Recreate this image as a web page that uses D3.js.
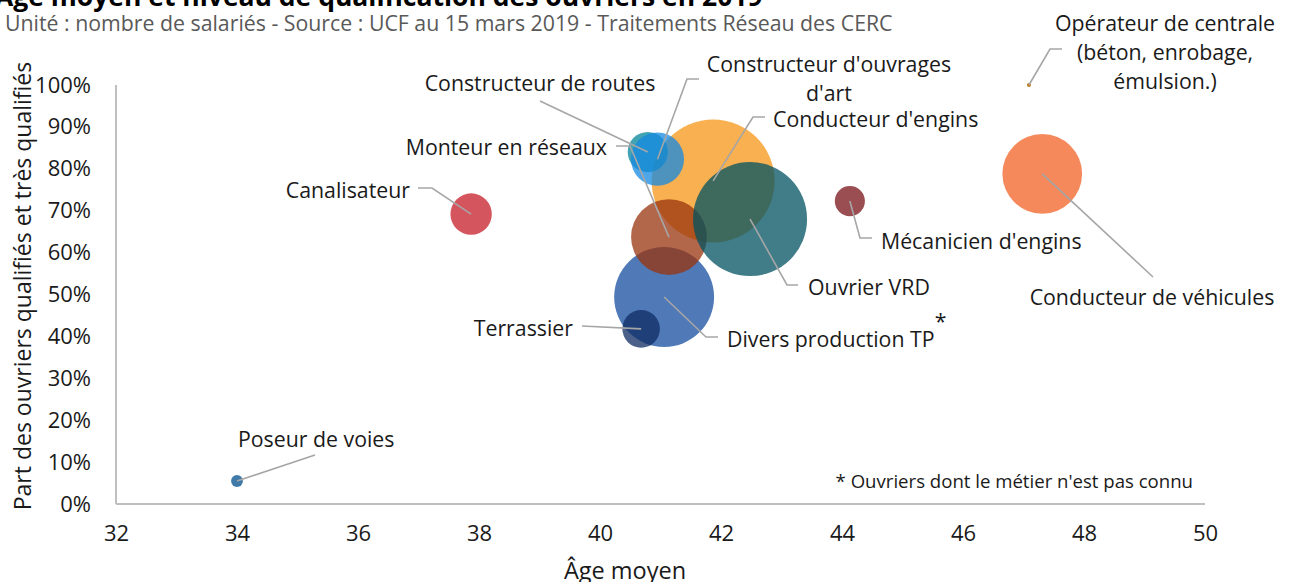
<!DOCTYPE html>
<html><head><meta charset="utf-8">
<script src="https://cdn.jsdelivr.net/npm/d3@7"></script>
<style>
html,body{margin:0;padding:0;background:#fff;}
svg{display:block;font-family:"Open Sans",sans-serif;}
</style></head>
<body>
<svg id="c" width="1295" height="582"></svg>
<script>
// ---- data ----
const metiers = ["Conducteur d'engins","Divers production TP","Constructeur de routes","Constructeur d'ouvrages d'art","Monteur en réseaux","Ouvrier VRD","Terrassier","Canalisateur","Mécanicien d'engins","Conducteur de véhicules","Poseur de voies","Opérateur de centrale (béton, enrobage, émulsion.)"];
const agesMoyens = [41.87, 41.06, 40.79, 40.95, 41.14, 42.48, 40.68, 37.87, 44.13, 47.31, 34.0, 47.09];
const partsQualifies = [0.771, 0.494, 0.840, 0.823, 0.637, 0.680, 0.418, 0.692, 0.723, 0.788, 0.055, 1.0];
const salaries = [15000, 9900, 1600, 2800, 5700, 12900, 1400, 1700, 900, 6300, 140, 9];
const xTicks = [32,34,36,38,40,42,44,46,48,50];
const yTicks = [0,0.1,0.2,0.3,0.4,0.5,0.6,0.7,0.8,0.9,1.0];

// ---- styles / layout ----
const colors = ["#f59515","#154ca0","#038499","#148ae1","#99340d","#005261","#0f2c63","#c71c28","#781318","#f16125","#004e8b","#c07a20"];
const labelLayout = [
  {lines:["Conducteur d'engins"], anchor:"start", x:773, y:118, leader:[[753,117],[765,117]]},
  {lines:["Divers production TP"], anchor:"start", x:727, y:338, leader:[[706,337],[718,337]], star:true},
  {lines:["Constructeur de routes"], anchor:"middle", x:540, y:82, leader:[[540,101]]},
  {lines:["Constructeur d'ouvrages","d'art"], anchor:"middle", x:829, y:63, leader:[[687,79],[699,79]]},
  {lines:["Monteur en réseaux"], anchor:"end", x:607, y:146, leader:[[630,146],[616,146]]},
  {lines:["Ouvrier VRD"], anchor:"start", x:808, y:286, leader:[[787,285],[798,285]]},
  {lines:["Terrassier"], anchor:"end", x:573, y:327, leader:[[582,326]]},
  {lines:["Canalisateur"], anchor:"end", x:410, y:189, leader:[[432,188],[418,188]]},
  {lines:["Mécanicien d'engins"], anchor:"start", x:881, y:240, leader:[[860,238],[872,238]]},
  {lines:["Conducteur de véhicules"], anchor:"middle", x:1152, y:296, leader:[[1153,277]]},
  {lines:["Poseur de voies"], anchor:"start", x:238, y:438, leader:[[315,455]]},
  {lines:["Opérateur de centrale","(béton, enrobage,","émulsion.)"], anchor:"middle", x:1165, y:22, leader:[[1050,49],[1062,49]]}
];
const labelSize = 21.3;

const svg = d3.select("#c");
const x = d3.scaleLinear().domain([32,50]).range([116,1205]);
const y = d3.scaleLinear().domain([0,1]).range([504,85]);
const r = d3.scaleSqrt().domain([0,15000]).range([0,61.5]);

// title & subtitle
svg.append("text").attr("x",-5).attr("y",6).attr("font-size",26.5).attr("font-weight","bold").attr("fill","#000")
  .text("Âge moyen et niveau de qualification des ouvriers en 2019");
svg.append("text").attr("x",5).attr("y",22).attr("dominant-baseline","central").attr("font-size",21.3).attr("fill","#595959")
  .text("Unité : nombre de salariés - Source : UCF au 15 mars 2019 - Traitements Réseau des CERC");

// axes
const xAxis = d3.axisBottom(x).tickValues(xTicks).tickSize(0).tickPadding(21).tickFormat(d3.format("d"));
const gx = svg.append("g").attr("transform",`translate(0,${y(0)})`).call(xAxis);
const yAxis = d3.axisLeft(y).tickValues(yTicks).tickSize(0).tickPadding(25).tickFormat(d3.format(".0%"));
const gy = svg.append("g").attr("transform",`translate(${x(32)},0)`).call(yAxis);
[gx,gy].forEach(g=>{
  g.select(".domain").attr("stroke","#bfbfbf").attr("stroke-width",2);
  g.selectAll("text").attr("font-family","Open Sans").attr("font-size",22).attr("fill","#1a1a1a");
});
gx.select(".domain").attr("d",`M${x(32)},0H${x(50)}`);
gy.select(".domain").attr("d",`M0,${y(1)}V${y(0)}`);

svg.append("text").attr("x",625).attr("y",570).attr("text-anchor","middle").attr("dominant-baseline","central")
  .attr("font-size",23.5).attr("fill","#1a1a1a").text("Âge moyen");
svg.append("text").attr("transform",`translate(22,286) rotate(-90)`).attr("text-anchor","middle").attr("dominant-baseline","central")
  .attr("font-size",23).attr("fill","#1a1a1a").text("Part des ouvriers qualifiés et très qualifiés");

// bubbles
const data = metiers.map((m,i)=>({m, age:agesMoyens[i], part:partsQualifies[i], n:salaries[i], color:colors[i], lab:labelLayout[i]}));
svg.append("g").selectAll("circle").data(data).join("circle")
  .attr("cx",d=>x(d.age)).attr("cy",d=>y(d.part)).attr("r",d=>Math.max(r(d.n),2))
  .attr("fill",d=>d.color).attr("fill-opacity",d=>d.n<50?1:0.75);

// leader lines
const line = d3.line();
svg.append("g").selectAll("path").data(data).join("path")
  .attr("d",d=>line([[x(d.age),y(d.part)], ...d.lab.leader]))
  .attr("fill","none").attr("stroke","#a6a6a6").attr("stroke-width",1.6);

// labels
const lg = svg.append("g");
data.forEach(d=>{
  const t = lg.append("text").attr("text-anchor",d.lab.anchor).attr("font-size",labelSize).attr("fill","#1a1a1a");
  d.lab.lines.forEach((ln,k)=>{
    t.append("tspan").attr("x",d.lab.x).attr("y",d.lab.y + k*29).attr("dominant-baseline","central").text(ln);
  });
  if(d.lab.star){
    const bb = t.node().getBBox();
    lg.append("text").attr("x",bb.x+bb.width+6).attr("y",d.lab.y-18).attr("text-anchor","middle").attr("dominant-baseline","central")
      .attr("font-size",labelSize).attr("fill","#1a1a1a").text("*");
  }
});

// footnote
svg.append("text").attr("x",1193).attr("y",480).attr("text-anchor","end").attr("dominant-baseline","central")
  .attr("font-size",18.6).attr("fill","#1a1a1a").text("* Ouvriers dont le métier n'est pas connu");
</script>
</body></html>
